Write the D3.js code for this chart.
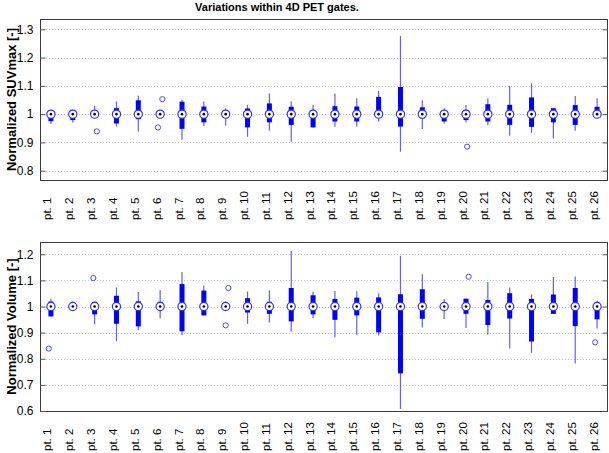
<!DOCTYPE html>
<html>
<head>
<meta charset="utf-8">
<script src="https://cdn.jsdelivr.net/npm/d3@7/dist/d3.min.js"></script>
<style>
    body { margin: 0; background: #fff; }
    svg { display: block; font-family: "Liberation Sans", Arial, sans-serif; }
</style>
</head>
<body>
<div id="chart"></div>
<script>
// patients
var patients = ['pt. 1', 'pt. 2', 'pt. 3', 'pt. 4', 'pt. 5', 'pt. 6', 'pt. 7', 'pt. 8', 'pt. 9', 'pt. 10',
    'pt. 11', 'pt. 12', 'pt. 13', 'pt. 14', 'pt. 15', 'pt. 16', 'pt. 17', 'pt. 18', 'pt. 19', 'pt. 20',
    'pt. 21', 'pt. 22', 'pt. 23', 'pt. 24', 'pt. 25', 'pt. 26'];

// normalized SUVmax
var suvLow = [0.965, 0.97, 0.99, 0.956, 0.938, 0.99, 0.909, 0.958, 0.959, 0.92, 0.941, 0.902, 0.953,
    0.955, 0.956, 0.974, 0.867, 0.947, 0.967, 0.97, 0.961, 0.924, 0.934, 0.914, 0.941, 1.0];
var suvQ1 = [0.975, 0.979, 1.0, 0.967, 0.982, 1.0, 0.948, 0.971, 1.0, 0.953, 0.971, 0.962, 0.953,
    0.974, 0.974, 1.0, 0.956, 0.985, 0.974, 0.979, 0.974, 0.962, 0.955, 0.971, 0.962, 1.0];
var suvMedian = [1, 1, 1, 1, 1, 1, 1, 1, 1, 1, 1, 1, 1, 1, 1, 1, 1, 1, 1, 1, 1, 1, 1, 1, 1, 1];
var suvQ3 = [1.0, 1.015, 1.0, 1.021, 1.049, 1.0, 1.044, 1.027, 1.0, 1.02, 1.038, 1.026, 1.015,
    1.028, 1.027, 1.061, 1.096, 1.024, 1.009, 1.015, 1.035, 1.033, 1.059, 1.021, 1.032, 1.026];
var suvHigh = [1.005, 1.015, 1.03, 1.045, 1.065, 1.01, 1.051, 1.045, 1.021, 1.033, 1.073, 1.045, 1.033,
    1.073, 1.056, 1.082, 1.276, 1.049, 1.021, 1.032, 1.056, 1.1, 1.109, 1.021, 1.064, 1.056];
// [patient number, value, jitter]
var suvOutliers = [[3, 0.939, 0.1], [6, 1.053, 0.1], [6, 0.953, -0.1], [20, 0.885, 0.05]];
var suvTicks = [0.8, 0.9, 1, 1.1, 1.2, 1.3];

// normalized volume
var volLow = [0.962, 0.984, 0.932, 0.867, 0.909, 0.954, 0.89, 0.966, 0.985, 0.934, 0.939, 0.903, 0.956,
    0.882, 0.892, 0.889, 0.608, 0.92, 0.952, 0.918, 0.892, 0.839, 0.823, 0.972, 0.782, 0.916];
var volQ1 = [0.962, 1.0, 0.97, 0.934, 0.924, 0.987, 0.905, 0.966, 1.0, 0.977, 0.972, 0.943, 0.97,
    0.949, 0.966, 0.901, 0.744, 0.953, 1.0, 0.972, 0.929, 0.954, 0.866, 0.972, 0.925, 0.951];
var volMedian = [1, 1, 1, 1, 1, 1, 1, 1, 1, 1, 1, 1, 1, 1, 1, 1, 1, 1, 1, 1, 1, 1, 1, 1, 1, 1];
var volQ3 = [1.019, 1.0, 1.018, 1.041, 1.02, 1.018, 1.086, 1.061, 1.0, 1.032, 1.018, 1.071, 1.043,
    1.029, 1.034, 1.035, 1.047, 1.066, 1.0, 1.03, 1.025, 1.051, 1.029, 1.046, 1.071, 1.015];
var volHigh = [1.03, 1.019, 1.018, 1.073, 1.056, 1.063, 1.132, 1.08, 1.02, 1.057, 1.061, 1.213, 1.057,
    1.059, 1.058, 1.051, 1.194, 1.124, 1.029, 1.03, 1.094, 1.073, 1.047, 1.113, 1.115, 1.022];
var volOutliers = [[1, 0.839, -0.1], [3, 1.109, -0.06], [9, 1.071, 0.12], [9, 0.928, 0],
    [20, 1.114, 0.12], [26, 0.863, -0.09]];
var volTicks = [0.6, 0.7, 0.8, 0.9, 1, 1.1, 1.2];

var W = 609, H = 453;
var left = 40, right = 608;

var svg = d3.select('#chart').append('svg')
    .attr('width', W)
    .attr('height', H);

svg.append('text')
    .attr('x', 277)
    .attr('y', 11)
    .attr('text-anchor', 'middle')
    .style('font-size', '11px')
    .style('font-weight', 'bold')
    .text('Variations within 4D PET gates.');

var x = d3.scaleBand()
    .domain(patients)
    .range([left, right]);

function drawPanel(p) {
    var y = d3.scaleLinear()
        .domain(p.domain)
        .range([p.bottom, p.top]);
    var g = svg.append('g');
    var bw = x.bandwidth();
    var cx = function (i) { return x(patients[i]) + bw / 2; };

    // dotted grid
    g.selectAll('.grid')
        .data(p.ticks)
        .enter().append('line')
        .attr('x1', left).attr('x2', right)
        .attr('y1', function (d) { return Math.round(y(d)) + 0.5; })
        .attr('y2', function (d) { return Math.round(y(d)) + 0.5; })
        .attr('stroke', '#c8c8c8')
        .attr('stroke-dasharray', '1,2');

    var idx = d3.range(patients.length);

    // whiskers
    g.selectAll('.whisker')
        .data(idx)
        .enter().append('line')
        .attr('x1', cx).attr('x2', cx)
        .attr('y1', function (i) { return y(p.low[i]); })
        .attr('y2', function (i) { return y(p.high[i]); })
        .attr('stroke', '#6060ff')
        .attr('stroke-width', 1.2);

    // boxes
    g.selectAll('.box')
        .data(idx)
        .enter().append('line')
        .attr('x1', cx).attr('x2', cx)
        .attr('y1', function (i) { return y(p.q1[i]); })
        .attr('y2', function (i) { return y(p.q3[i]); })
        .attr('stroke', '#0000ff')
        .attr('stroke-width', 5);

    // median markers
    g.selectAll('.med')
        .data(idx)
        .enter().append('circle')
        .attr('cx', cx)
        .attr('cy', function (i) { return y(p.median[i]); })
        .attr('r', 4.1)
        .attr('fill', '#fff')
        .attr('stroke', '#3030ff')
        .attr('stroke-width', 1.2);
    g.selectAll('.meddot')
        .data(idx)
        .enter().append('circle')
        .attr('cx', cx)
        .attr('cy', function (i) { return y(p.median[i]); })
        .attr('r', 1.3)
        .attr('fill', '#000');

    // outliers
    g.selectAll('.out')
        .data(p.outliers)
        .enter().append('circle')
        .attr('cx', function (d) { return cx(d[0] - 1) + d[2] * bw; })
        .attr('cy', function (d) { return y(d[1]); })
        .attr('r', 2.6)
        .attr('fill', 'none')
        .attr('stroke', '#4a4aff')
        .attr('stroke-width', 1);

    // axes box
    g.append('rect')
        .attr('x', left + 0.5).attr('y', p.top + 0.5)
        .attr('width', right - left - 1).attr('height', p.bottom - p.top)
        .attr('fill', 'none')
        .attr('stroke', '#3a3a3a');

    // inward ticks left and right
    var yl = d3.axisLeft(y).tickValues(p.ticks).tickSize(-5).tickPadding(7)
        .tickFormat(d3.format('~g'));
    var ya = g.append('g').attr('transform', 'translate(' + (left + 0.5) + ',0)').call(yl);
    ya.select('.domain').remove();
    ya.selectAll('line').attr('stroke', '#555');
    ya.selectAll('text').style('font-size', '12px').attr('fill', '#000');

    var yr = d3.axisRight(y).tickValues(p.ticks).tickSize(-5).tickFormat('');
    var yra = g.append('g').attr('transform', 'translate(' + (right - 0.5) + ',0)').call(yr);
    yra.select('.domain').remove();
    yra.selectAll('line').attr('stroke', '#555');

    // rotated patient labels
    g.selectAll('.xl')
        .data(patients)
        .enter().append('text')
        .attr('transform', function (d) {
            return 'translate(' + (x(d) + bw / 2 + 0.5) + ',' + (p.bottom + 40) + ') rotate(-90)';
        })
        .attr('text-anchor', 'start')
        .style('font-size', '11.5px')
        .text(function (d) { return d; });

    // y label
    g.append('text')
        .attr('transform', 'translate(16,' + (p.top + p.bottom) / 2 + ') rotate(-90)')
        .attr('text-anchor', 'middle')
        .style('font-size', '13px')
        .style('font-weight', 'bold')
        .text(p.label);
}

drawPanel({
    top: 19, bottom: 180, domain: [0.7671, 1.3364], ticks: suvTicks,
    low: suvLow, q1: suvQ1, median: suvMedian, q3: suvQ3, high: suvHigh,
    outliers: suvOutliers, label: 'Normalized SUVmax [-]'
});

drawPanel({
    top: 242, bottom: 411, domain: [0.6, 1.247], ticks: volTicks,
    low: volLow, q1: volQ1, median: volMedian, q3: volQ3, high: volHigh,
    outliers: volOutliers, label: 'Normalized Volume [-]'
});
</script>
</body>
</html>
